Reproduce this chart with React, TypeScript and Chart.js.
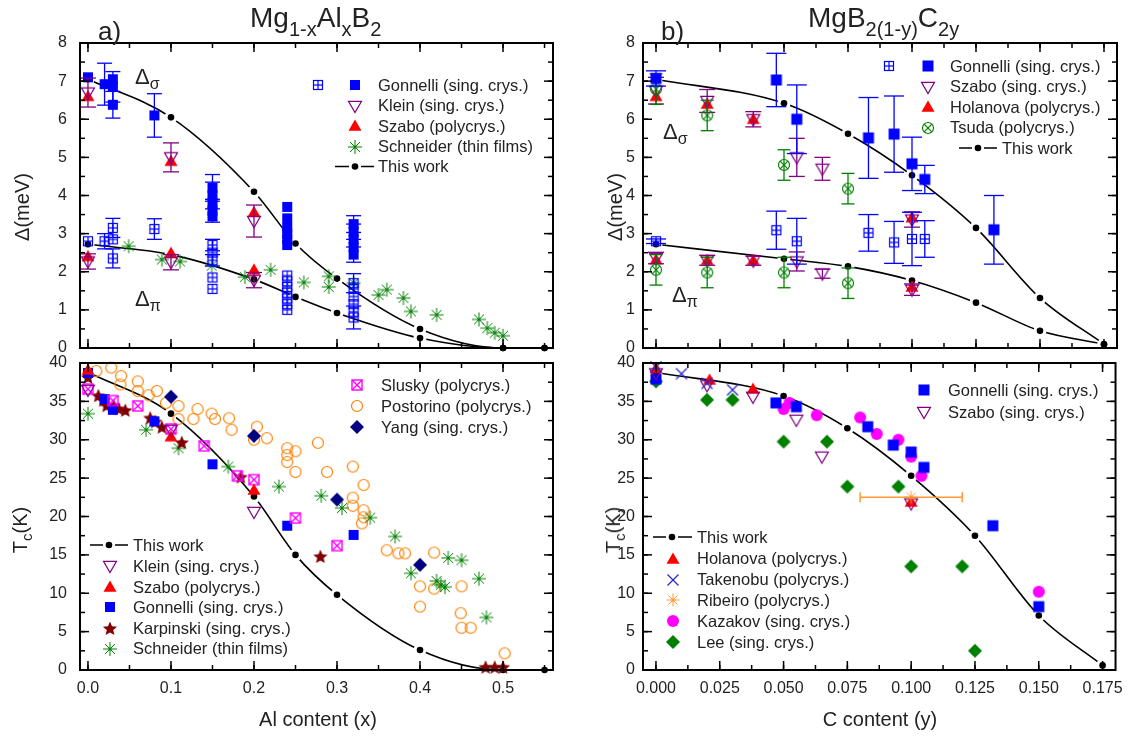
import React, { useEffect, useRef } from "react";
import { Chart, registerables } from "chart.js";

Chart.register(...registerables);

const FONT = "'Liberation Sans', Arial, Helvetica, sans-serif";
const TEXT = "#222222";

const C_BLUE = "#0000ff";
const C_PURPLE = "#800080";
const C_RED = "#ff0000";
const C_GREEN = "#008000";
const C_MAGENTA = "#ff00ff";
const C_ORANGE = "#ff8000";
const C_NAVY = "#000080";
const C_MAROON = "#800000";
const C_TAKENOBU = "#2a2ac8";
const C_RIBEIRO = "#ff9933";

// ================= DATA: panel a) Mg1-xAlxB2 =================
const aThisWorkX = [0, 0.1, 0.2, 0.25, 0.3, 0.4, 0.5, 0.55];
const aThisWorkSigma = [7.05, 6.05, 4.1, 2.74, 1.82, 0.5, 0, 0];
const aThisWorkPi = [2.72, 2.45, 1.8, 1.34, 0.92, 0.26, 0, 0];
const aThisWorkTc = [38.8, 33.4, 22.6, 15.0, 9.8, 2.6, 0, 0];

const aGonSigmaX = [0, 0.02, 0.03, 0.03, 0.03, 0.08, 0.15, 0.15, 0.15, 0.15, 0.15, 0.24, 0.24, 0.24, 0.24, 0.24, 0.24, 0.32, 0.32, 0.32, 0.32, 0.32];
const aGonSigma = [7.1, 6.92, 7.05, 6.85, 6.38, 6.1, 4.2, 4.0, 3.8, 3.6, 3.45, 3.7, 3.4, 3.15, 3.0, 2.85, 2.7, 3.25, 3.05, 2.85, 2.65, 2.45];
const aGonSigmaErr = [0, 0.55, 0, 0.4, 0.35, 0.57, 0.35, 0.35, 0, 0.3, 0, 0, 0, 0, 0, 0, 0, 0.22, 0.2, 0, 0, 0.2];

const aGonPiX = [0, 0.02, 0.03, 0.03, 0.03, 0.08, 0.15, 0.15, 0.15, 0.15, 0.15, 0.24, 0.24, 0.24, 0.24, 0.24, 0.24, 0.24, 0.32, 0.32, 0.32, 0.32, 0.32, 0.32];
const aGonPi = [2.8, 2.8, 3.15, 2.85, 2.35, 3.12, 2.7, 2.5, 2.3, 1.85, 1.55, 1.9, 1.75, 1.6, 1.45, 1.3, 1.15, 1.0, 1.7, 1.55, 1.35, 1.15, 0.95, 0.8];
const aGonPiErr = [0, 0.2, 0.25, 0, 0.25, 0.27, 0.15, 0, 0.15, 0, 0, 0, 0, 0, 0, 0, 0, 0, 0.25, 0, 0, 0, 0, 0.3];

const aKleinX = [0, 0.1, 0.2];
const aKleinSigma = [6.7, 5.0, 3.33];
const aKleinSigmaErr = [0.38, 0.38, 0.42];
const aKleinPi = [2.27, 2.25, 1.78];
const aKleinPiErr = [0.2, 0.2, 0.2];

const aSzaboX = [0, 0.1, 0.2];
const aSzaboSigma = [6.6, 4.9, 3.56];
const aSzaboPi = [2.4, 2.49, 2.05];

const aSchneiderGapX = [0.049, 0.089, 0.111, 0.149, 0.189, 0.22, 0.26, 0.29, 0.29, 0.32, 0.35, 0.36, 0.38, 0.389, 0.42, 0.471, 0.481, 0.49, 0.5];
const aSchneiderGap = [2.67, 2.32, 2.27, 2.16, 1.86, 2.05, 1.72, 1.88, 1.6, 1.7, 1.39, 1.53, 1.31, 0.96, 0.87, 0.75, 0.52, 0.4, 0.32];

const aSluskyX = [0, 0.03, 0.06, 0.1, 0.14, 0.18, 0.2, 0.25, 0.3];
const aSluskyTc = [36.6, 35.1, 34.4, 31.4, 29.2, 25.3, 24.8, 19.8, 16.2];

const aPostorinoX = [0.01, 0.028, 0.04, 0.039, 0.06, 0.06, 0.073, 0.083, 0.094, 0.109, 0.109, 0.127, 0.132, 0.149, 0.153, 0.17, 0.173, 0.2035, 0.2, 0.2155, 0.24, 0.24, 0.24, 0.25, 0.25, 0.277, 0.288, 0.319, 0.332, 0.319, 0.319, 0.332, 0.332, 0.33, 0.36, 0.374, 0.382, 0.417, 0.4, 0.417, 0.45, 0.4, 0.449, 0.45, 0.461, 0.502];
const aPostorinoTc = [38.96, 39.4, 38.3, 37.2, 37.6, 36.35, 35.8, 36.35, 34.8, 34.4, 32.7, 32.7, 34.0, 33.4, 32.7, 32.8, 31.3, 31.7, 30.0, 30.2, 28.9, 28.0, 27.1, 28.5, 25.8, 29.6, 25.8, 26.5, 24.1, 22.45, 21.4, 20.8, 19.9, 19.1, 15.6, 15.2, 15.2, 15.3, 10.9, 10.6, 10.9, 8.25, 7.4, 5.5, 5.5, 2.17];

const aYangX = [0.1, 0.2, 0.3, 0.4];
const aYangTc = [35.6, 30.5, 22.2, 13.7];

const aGonTcX = [0, 0.02, 0.03, 0.08, 0.15, 0.24, 0.32];
const aGonTc = [38.7, 35.3, 33.9, 32.4, 26.8, 18.8, 17.6];

const aKleinTc = [36.5, 31.3, 20.6];
const aSzaboTc = [39.1, 30.4, 23.45];

const aKarpinskiX = [0, 0.0125, 0.0185, 0.0225, 0.031, 0.037, 0.045, 0.075, 0.081, 0.089, 0.113, 0.184, 0.28, 0.479, 0.49, 0.5];
const aKarpinskiTc = [38.2, 35.8, 35.2, 34.5, 34.5, 34.1, 33.9, 32.9, 32.4, 31.7, 29.7, 25.2, 14.85, 0.43, 0.43, 0.43];

const aSchneiderTcX = [0, 0.07, 0.109, 0.169, 0.23, 0.281, 0.306, 0.34, 0.37, 0.389, 0.42, 0.425, 0.43, 0.434, 0.45, 0.471, 0.48];
const aSchneiderTc = [33.4, 31.3, 28.9, 26.5, 23.9, 22.7, 21.1, 19.85, 17.4, 12.6, 11.6, 11.1, 10.8, 14.6, 14.3, 11.9, 6.85];

// ================= DATA: panel b) MgB2(1-y)C2y =================
const bThisWorkX = [0, 0.05, 0.075, 0.1, 0.125, 0.15, 0.175];
const bThisWorkSigma = [7.05, 6.42, 5.62, 4.53, 3.15, 1.31, 0.1];
const bThisWorkPi = [2.72, 2.34, 2.14, 1.77, 1.19, 0.45, 0.1];
const bThisWorkTc = [38.8, 35.7, 31.5, 25.3, 17.5, 7.1, 0.6];

const bGonSigmaX = [0, 0.047, 0.055, 0.083, 0.093, 0.1, 0.105, 0.132];
const bGonSigma = [7.07, 7.03, 6.0, 5.51, 5.61, 4.83, 4.42, 3.1];
const bGonSigmaErr = [0.2, 0.7, 0.9, 1.06, 1.0, 0.7, 0.37, 0.9];
const bGonPiX = [0, 0.047, 0.055, 0.083, 0.093, 0.1, 0.105];
const bGonPi = [2.8, 3.09, 2.8, 3.02, 2.77, 2.86, 2.86];
const bGonPiErr = [0.06, 0.5, 0.6, 0.48, 0.55, 0.7, 0.48];

const bSzaboX = [0, 0.02, 0.038, 0.055, 0.065, 0.1];
const bSzaboSigma = [6.75, 6.48, 6.0, 5.0, 4.7, 3.37];
const bSzaboSigmaErr = [0.35, 0.3, 0.2, 0.5, 0.3, 0.2];
const bSzaboPi = [2.36, 2.3, 2.29, 2.27, 1.95, 1.53];
const bSzaboPiErr = [0.15, 0.13, 0.12, 0.25, 0.12, 0.15];

const bHolanovaX = [0, 0.02, 0.038, 0.1];
const bHolanovaSigma = [6.6, 6.4, 6.0, 3.42];
const bHolanovaPi = [2.32, 2.3, 2.3, 1.6];

const bTsudaX = [0, 0.02, 0.05, 0.075];
const bTsudaSigma = [6.79, 6.1, 4.8, 4.18];
const bTsudaPi = [2.05, 1.98, 1.98, 1.7];
const bTsudaErr = [0.4, 0.4, 0.4, 0.4];

const bHolanovaTcX = [0, 0.021, 0.038, 0.1];
const bHolanovaTc = [39.3, 37.8, 36.6, 21.9];
const bTakenobuX = [0, 0.01, 0.02, 0.03];
const bTakenobuTc = [39.5, 38.6, 37.35, 36.5];
const bRibeiroX = [0.1];
const bRibeiroTc = [22.5];
const bRibeiroXErr = [0.02];
const bKazakovX = [0.05, 0.0523, 0.063, 0.08, 0.0865, 0.095, 0.1, 0.104, 0.15];
const bKazakovTc = [34.0, 34.8, 33.2, 32.9, 30.75, 30.0, 27.8, 25.3, 10.2];
const bGonTcX = [0, 0.047, 0.055, 0.083, 0.093, 0.1, 0.105, 0.132, 0.15];
const bGonTc = [37.9, 34.8, 34.3, 31.7, 29.3, 28.4, 26.4, 18.8, 8.25];
const bSzaboTcX = [0, 0.02, 0.038, 0.055, 0.065, 0.1];
const bSzaboTc = [38.65, 37.1, 35.6, 32.6, 27.8, 21.7];
const bLeeX = [0, 0.02, 0.03, 0.05, 0.067, 0.075, 0.095, 0.1, 0.12, 0.125];
const bLeeTc = [37.6, 35.2, 35.2, 29.75, 29.75, 23.9, 23.9, 13.5, 13.5, 2.5];

// ================= MARKERS =================
type Kind = "sqFill" | "sqPlus" | "sqX" | "triDown" | "triUp" | "asterisk" | "circleOpen" | "circleFill" | "circleX" | "diamond" | "star5" | "cross";

function drawMarker(kind: Kind, color: string, size: number): HTMLCanvasElement {
  const S = 30;
  const c = document.createElement("canvas");
  c.width = S;
  c.height = S;
  const g = c.getContext("2d")!;
  const m = S / 2;
  const h = size / 2;
  g.strokeStyle = color;
  g.fillStyle = color;
  g.lineWidth = 1.2;
  const seg = (x1: number, y1: number, x2: number, y2: number) => {
    g.beginPath();
    g.moveTo(x1, y1);
    g.lineTo(x2, y2);
    g.stroke();
  };
  switch (kind) {
    case "sqFill":
      g.fillRect(m - h, m - h, size, size);
      break;
    case "sqPlus":
      g.strokeRect(m - h, m - h, size, size);
      seg(m, m - h, m, m + h);
      seg(m - h, m, m + h, m);
      break;
    case "sqX":
      g.lineWidth = 1.4;
      g.strokeRect(m - h, m - h, size, size);
      seg(m - h, m - h, m + h, m + h);
      seg(m - h, m + h, m + h, m - h);
      break;
    case "triDown":
      g.beginPath();
      g.moveTo(m - h, m - h * 0.72);
      g.lineTo(m + h, m - h * 0.72);
      g.lineTo(m, m + h);
      g.closePath();
      g.stroke();
      break;
    case "triUp":
      g.beginPath();
      g.moveTo(m - h, m + h * 0.72);
      g.lineTo(m + h, m + h * 0.72);
      g.lineTo(m, m - h);
      g.closePath();
      g.fill();
      break;
    case "asterisk":
      g.lineWidth = 1;
      for (let k = 0; k < 4; k++) {
        const a = (k * Math.PI) / 4;
        seg(m - h * Math.cos(a), m - h * Math.sin(a), m + h * Math.cos(a), m + h * Math.sin(a));
      }
      g.beginPath();
      g.arc(m, m, 1.5, 0, Math.PI * 2);
      g.fill();
      break;
    case "circleOpen":
      g.beginPath();
      g.arc(m, m, h, 0, Math.PI * 2);
      g.stroke();
      break;
    case "circleFill":
      g.beginPath();
      g.arc(m, m, h, 0, Math.PI * 2);
      g.fill();
      break;
    case "circleX": {
      g.beginPath();
      g.arc(m, m, h, 0, Math.PI * 2);
      g.stroke();
      const d = h * 0.7;
      seg(m - d, m - d, m + d, m + d);
      seg(m - d, m + d, m + d, m - d);
      break;
    }
    case "diamond":
      g.beginPath();
      g.moveTo(m, m - h);
      g.lineTo(m + h, m);
      g.lineTo(m, m + h);
      g.lineTo(m - h, m);
      g.closePath();
      g.fill();
      break;
    case "star5":
      g.beginPath();
      for (let k = 0; k < 10; k++) {
        const r = k % 2 === 0 ? h : h * 0.45;
        const a = -Math.PI / 2 + (k * Math.PI) / 5;
        const px = m + r * Math.cos(a);
        const py = m + 1 + r * Math.sin(a);
        if (k === 0) g.moveTo(px, py);
        else g.lineTo(px, py);
      }
      g.closePath();
      g.fill();
      break;
    case "cross":
      seg(m - h, m - h, m + h, m + h);
      seg(m - h, m + h, m + h, m - h);
      break;
  }
  return c;
}

const MARKER_DEFS: Record<string, [Kind, string, number]> = {
  gonSq: ["sqFill", C_BLUE, 10],
  gonSqB: ["sqFill", C_BLUE, 11],
  gonPlus: ["sqPlus", C_BLUE, 9],
  purpleTri: ["triDown", C_PURPLE, 13],
  redTri: ["triUp", C_RED, 13],
  greenAst: ["asterisk", C_GREEN, 14],
  magSqX: ["sqX", C_MAGENTA, 10],
  orangeCirc: ["circleOpen", C_ORANGE, 11],
  navyDiamond: ["diamond", C_NAVY, 14],
  maroonStar: ["star5", C_MAROON, 15],
  greenCircX: ["circleX", C_GREEN, 11],
  blueCross: ["cross", C_TAKENOBU, 11],
  orangeAst: ["asterisk", C_RIBEIRO, 13],
  magCirc: ["circleFill", C_MAGENTA, 12],
  greenDiamond: ["diamond", C_GREEN, 14],
};
const markerCache: Record<string, HTMLCanvasElement> = {};
function mk(key: string): HTMLCanvasElement {
  if (!markerCache[key]) {
    const [k, c, s] = MARKER_DEFS[key];
    markerCache[key] = drawMarker(k, c, s);
  }
  return markerCache[key];
}

// ================= DATASET HELPERS =================
const pts = (xs: number[], ys: number[]) => xs.map((x, i) => ({ x, y: ys[i] }));

function series(label: string, xs: number[], ys: number[], markerKey: string, extra: any = {}) {
  return {
    label,
    data: pts(xs, ys),
    pointStyle: mk(markerKey),
    pointRadius: 6,
    pointHoverRadius: 6,
    showLine: false,
    clip: false,
    ...extra,
  };
}

function thisWork(xs: number[], ys: number[]) {
  return [
    {
      label: "This work",
      data: pts(xs, ys),
      showLine: true,
      borderColor: "#000",
      borderWidth: 1.6,
      cubicInterpolationMode: "monotone",
      pointStyle: "circle",
      pointRadius: 6.5,
      pointHoverRadius: 6.5,
      pointBackgroundColor: "#fff",
      pointBorderColor: "#fff",
      pointBorderWidth: 0,
      clip: false,
      order: 100,
    },
    {
      label: "This work (points)",
      data: pts(xs, ys),
      showLine: false,
      pointStyle: "circle",
      pointRadius: 3.3,
      pointHoverRadius: 3.3,
      pointBackgroundColor: "#000",
      pointBorderColor: "#000",
      pointBorderWidth: 0,
      clip: false,
      order: 99,
    },
  ];
}

// ================= PLUGINS =================
const errorBarPlugin = {
  id: "errorBars",
  beforeDatasetDraw(chart: any, args: any) {
    const ds: any = chart.data.datasets[args.index];
    if (!ds.errY && !ds.errX) return;
    const ctx = chart.ctx;
    const xs = chart.scales.x;
    const ys = chart.scales.y;
    ctx.save();
    ctx.strokeStyle = ds.errColor || "#000";
    ctx.lineWidth = ds.errWidth || 1.3;
    const cap = ds.errCap || 8;
    const line = (x1: number, y1: number, x2: number, y2: number) => {
      ctx.beginPath();
      ctx.moveTo(x1, y1);
      ctx.lineTo(x2, y2);
      ctx.stroke();
    };
    ds.data.forEach((p: any, i: number) => {
      const px = xs.getPixelForValue(p.x);
      const py = ys.getPixelForValue(p.y);
      const ey = ds.errY ? ds.errY[i] : 0;
      if (ey) {
        const y1 = ys.getPixelForValue(p.y + ey);
        const y2 = ys.getPixelForValue(p.y - ey);
        line(px, y1, px, y2);
        line(px - cap, y1, px + cap, y1);
        line(px - cap, y2, px + cap, y2);
      }
      const ex = ds.errX ? ds.errX[i] : 0;
      if (ex) {
        const x1 = xs.getPixelForValue(p.x - ex);
        const x2 = xs.getPixelForValue(p.x + ex);
        line(x1, py, x2, py);
        line(x1, py - 5, x1, py + 5);
        line(x2, py - 5, x2, py + 5);
      }
    });
    ctx.restore();
  },
};

type TickSpec = { xMajor: number; xMinor: number; yMajor: number; yMinor: number };
function framePlugin(spec: TickSpec) {
  return {
    id: "frameTicks",
    afterDraw(chart: any) {
      const { ctx, chartArea: a } = chart;
      const xs = chart.scales.x;
      const ys = chart.scales.y;
      ctx.save();
      ctx.strokeStyle = "#000";
      ctx.lineWidth = 1.5;
      const line = (x1: number, y1: number, x2: number, y2: number) => {
        ctx.beginPath();
        ctx.moveTo(x1, y1);
        ctx.lineTo(x2, y2);
        ctx.stroke();
      };
      const doX = (step: number, len: number) => {
        const k0 = Math.ceil(xs.min / step - 1e-6);
        const k1 = Math.floor(xs.max / step + 1e-6);
        for (let k = k0; k <= k1; k++) {
          const p = xs.getPixelForValue(k * step);
          line(p, a.bottom, p, a.bottom - len);
          line(p, a.top, p, a.top + len);
        }
      };
      const doY = (step: number, len: number) => {
        const k0 = Math.ceil(ys.min / step - 1e-6);
        const k1 = Math.floor(ys.max / step + 1e-6);
        for (let k = k0; k <= k1; k++) {
          const p = ys.getPixelForValue(k * step);
          line(a.left, p, a.left + len, p);
          line(a.right, p, a.right - len, p);
        }
      };
      doX(spec.xMinor, 5);
      doX(spec.xMajor, 9);
      doY(spec.yMinor, 5);
      doY(spec.yMajor, 9);
      ctx.lineWidth = 2;
      ctx.strokeRect(a.left, a.top, a.right - a.left, a.bottom - a.top);
      ctx.restore();
    },
  };
}

type LegendItem = {
  y: number;
  tx: number;
  label: string;
  marks?: { x: number; key: string }[];
  line?: { x1: number; x2: number; dot: number };
};
function legendPlugin(items: LegendItem[]) {
  return {
    id: "legendBox",
    afterDraw(chart: any) {
      const ctx = chart.ctx;
      ctx.save();
      ctx.font = `16.5px ${FONT}`;
      ctx.fillStyle = TEXT;
      ctx.textBaseline = "middle";
      ctx.textAlign = "left";
      items.forEach((it) => {
        if (it.marks) {
          it.marks.forEach((m) => {
            const img = mk(m.key);
            ctx.drawImage(img, Math.round(m.x - img.width / 2), Math.round(it.y - img.height / 2));
          });
        }
        if (it.line) {
          ctx.strokeStyle = "#000";
          ctx.lineWidth = 1.6;
          ctx.beginPath();
          ctx.moveTo(it.line.x1, it.y);
          ctx.lineTo(it.line.dot - 6, it.y);
          ctx.moveTo(it.line.dot + 6, it.y);
          ctx.lineTo(it.line.x2, it.y);
          ctx.stroke();
          ctx.fillStyle = "#000";
          ctx.beginPath();
          ctx.arc(it.line.dot, it.y, 3.3, 0, Math.PI * 2);
          ctx.fill();
          ctx.fillStyle = TEXT;
        }
        ctx.fillText(it.label, it.tx, it.y + 1);
      });
      ctx.restore();
    },
  };
}

// ================= PANELS =================
type PanelDef = {
  area: { l: number; t: number; r: number; b: number };
  x: { min: number; max: number; major: number; minor: number; dec: number; show: boolean };
  y: { min: number; max: number; major: number; minor: number; pad: number };
  datasets: () => any[];
  legend: LegendItem[];
};

const A_X = { min: -0.0096, max: 0.5602, major: 0.1, minor: 0.05, dec: 1 };
const B_X = { min: -0.00508, max: 0.18008, major: 0.025, minor: 0.0125, dec: 3 };
const GAP_Y = { min: 0, max: 8, major: 1, minor: 0.5 };
const TC_Y = { min: 0, max: 40, major: 5, minor: 2.5 };

const PANELS: PanelDef[] = [
  {
    area: { l: 80, t: 43, r: 553, b: 348 },
    x: { ...A_X, show: false },
    y: { ...GAP_Y, pad: 13 },
    datasets: () => [
      series("Klein (sing. crys.) σ", aKleinX, aKleinSigma, "purpleTri", { errY: aKleinSigmaErr, errColor: C_PURPLE, errCap: 8 }),
      series("Klein (sing. crys.) π", aKleinX, aKleinPi, "purpleTri", { errY: aKleinPiErr, errColor: C_PURPLE, errCap: 8 }),
      series("Szabo (polycrys.) σ", aSzaboX, aSzaboSigma, "redTri"),
      series("Szabo (polycrys.) π", aSzaboX, aSzaboPi, "redTri"),
      series("Gonnelli (sing. crys.) σ", aGonSigmaX, aGonSigma, "gonSq", { errY: aGonSigmaErr, errColor: C_BLUE, errCap: 7.5 }),
      series("Gonnelli (sing. crys.) π", aGonPiX, aGonPi, "gonPlus", { errY: aGonPiErr, errColor: C_BLUE, errCap: 7.5 }),
      series("Schneider (thin films)", aSchneiderGapX, aSchneiderGap, "greenAst"),
      ...thisWork(aThisWorkX, aThisWorkSigma),
      ...thisWork(aThisWorkX, aThisWorkPi),
    ],
    legend: [
      { y: 85, tx: 378, label: "Gonnelli (sing. crys.)", marks: [{ x: 318, key: "gonPlus" }, { x: 355, key: "gonSq" }] },
      { y: 105.5, tx: 378, label: "Klein (sing. crys.)", marks: [{ x: 355, key: "purpleTri" }] },
      { y: 126, tx: 378, label: "Szabo (polycrys.)", marks: [{ x: 355, key: "redTri" }] },
      { y: 146.5, tx: 378, label: "Schneider (thin films)", marks: [{ x: 355, key: "greenAst" }] },
      { y: 166.5, tx: 378, label: "This work", line: { x1: 335, x2: 374, dot: 355 } },
    ],
  },
  {
    area: { l: 80, t: 363, r: 553, b: 670 },
    x: { ...A_X, show: true },
    y: { ...TC_Y, pad: 13 },
    datasets: () => [
      series("Yang (sing. crys.)", aYangX, aYangTc, "navyDiamond"),
      series("Klein (sing. crys.)", aKleinX, aKleinTc, "purpleTri"),
      series("Szabo (polycrys.)", aSzaboX, aSzaboTc, "redTri"),
      series("Slusky (polycrys.)", aSluskyX, aSluskyTc, "magSqX"),
      series("Gonnelli (sing. crys.)", aGonTcX, aGonTc, "gonSq"),
      series("Karpinski (sing. crys.)", aKarpinskiX, aKarpinskiTc, "maroonStar"),
      series("Schneider (thin films)", aSchneiderTcX, aSchneiderTc, "greenAst"),
      series("Postorino (polycrys.)", aPostorinoX, aPostorinoTc, "orangeCirc"),
      ...thisWork(aThisWorkX, aThisWorkTc),
    ],
    legend: [
      { y: 385, tx: 381, label: "Slusky (polycrys.)", marks: [{ x: 357, key: "magSqX" }] },
      { y: 406, tx: 381, label: "Postorino (polycrys.)", marks: [{ x: 357, key: "orangeCirc" }] },
      { y: 427, tx: 381, label: "Yang (sing. crys.)", marks: [{ x: 357, key: "navyDiamond" }] },
      { y: 545, tx: 133, label: "This work", line: { x1: 90, x2: 128, dot: 109 } },
      { y: 566, tx: 133, label: "Klein (sing. crys.)", marks: [{ x: 110, key: "purpleTri" }] },
      { y: 587, tx: 133, label: "Szabo (polycrys.)", marks: [{ x: 110, key: "redTri" }] },
      { y: 607, tx: 133, label: "Gonnelli (sing. crys.)", marks: [{ x: 110, key: "gonSq" }] },
      { y: 628, tx: 133, label: "Karpinski (sing. crys.)", marks: [{ x: 110, key: "maroonStar" }] },
      { y: 648.5, tx: 133, label: "Schneider (thin films)", marks: [{ x: 110, key: "greenAst" }] },
    ],
  },
  {
    area: { l: 643, t: 43, r: 1117, b: 348 },
    x: { ...B_X, show: false },
    y: { ...GAP_Y, pad: 8 },
    datasets: () => [
      series("Gonnelli (sing. crys.) σ", bGonSigmaX, bGonSigma, "gonSqB", { errY: bGonSigmaErr, errColor: C_BLUE, errCap: 10 }),
      series("Gonnelli (sing. crys.) π", bGonPiX, bGonPi, "gonPlus", { errY: bGonPiErr, errColor: C_BLUE, errCap: 10 }),
      series("Tsuda (polycrys.) σ", bTsudaX, bTsudaSigma, "greenCircX", { errY: bTsudaErr, errColor: C_GREEN, errCap: 6.5 }),
      series("Tsuda (polycrys.) π", bTsudaX, bTsudaPi, "greenCircX", { errY: bTsudaErr, errColor: C_GREEN, errCap: 6.5 }),
      series("Szabo (sing. crys.) σ", bSzaboX, bSzaboSigma, "purpleTri", { errY: bSzaboSigmaErr, errColor: C_PURPLE, errCap: 8 }),
      series("Szabo (sing. crys.) π", bSzaboX, bSzaboPi, "purpleTri", { errY: bSzaboPiErr, errColor: C_PURPLE, errCap: 8 }),
      series("Holanova (polycrys.) σ", bHolanovaX, bHolanovaSigma, "redTri"),
      series("Holanova (polycrys.) π", bHolanovaX, bHolanovaPi, "redTri"),
      ...thisWork(bThisWorkX, bThisWorkSigma),
      ...thisWork(bThisWorkX, bThisWorkPi),
    ],
    legend: [
      { y: 66, tx: 950, label: "Gonnelli (sing. crys.)", marks: [{ x: 889, key: "gonPlus" }, { x: 928, key: "gonSqB" }] },
      { y: 86.5, tx: 950, label: "Szabo (sing. crys.)", marks: [{ x: 928, key: "purpleTri" }] },
      { y: 107, tx: 950, label: "Holanova (polycrys.)", marks: [{ x: 928, key: "redTri" }] },
      { y: 127.5, tx: 950, label: "Tsuda (polycrys.)", marks: [{ x: 928, key: "greenCircX" }] },
      { y: 148, tx: 1002, label: "This work", line: { x1: 959, x2: 997, dot: 978 } },
    ],
  },
  {
    area: { l: 643, t: 363, r: 1117, b: 670 },
    x: { ...B_X, show: true },
    y: { ...TC_Y, pad: 8 },
    datasets: () => [
      series("Ribeiro (polycrys.)", bRibeiroX, bRibeiroTc, "orangeAst", { errX: bRibeiroXErr, errColor: C_RIBEIRO, errWidth: 1.5 }),
      series("Takenobu (polycrys.)", bTakenobuX, bTakenobuTc, "blueCross"),
      series("Szabo (sing. crys.)", bSzaboTcX, bSzaboTc, "purpleTri"),
      series("Holanova (polycrys.)", bHolanovaTcX, bHolanovaTc, "redTri"),
      series("Gonnelli (sing. crys.)", bGonTcX, bGonTc, "gonSqB"),
      series("Kazakov (sing. crys.)", bKazakovX, bKazakovTc, "magCirc"),
      series("Lee (sing. crys.)", bLeeX, bLeeTc, "greenDiamond"),
      ...thisWork(bThisWorkX, bThisWorkTc),
    ],
    legend: [
      { y: 390, tx: 948, label: "Gonnelli (sing. crys.)", marks: [{ x: 924, key: "gonSqB" }] },
      { y: 412, tx: 948, label: "Szabo (sing. crys.)", marks: [{ x: 924, key: "purpleTri" }] },
      { y: 537, tx: 697, label: "This work", line: { x1: 653, x2: 692, dot: 672 } },
      { y: 558.5, tx: 697, label: "Holanova (polycrys.)", marks: [{ x: 673, key: "redTri" }] },
      { y: 579.5, tx: 697, label: "Takenobu (polycrys.)", marks: [{ x: 673, key: "blueCross" }] },
      { y: 600, tx: 697, label: "Ribeiro (polycrys.)", marks: [{ x: 673, key: "orangeAst" }] },
      { y: 621, tx: 697, label: "Kazakov (sing. crys.)", marks: [{ x: 673, key: "magCirc" }] },
      { y: 642, tx: 697, label: "Lee (sing. crys.)", marks: [{ x: 673, key: "greenDiamond" }] },
    ],
  },
];

const W = 1132;
const H = 736;
const YW = 60;
const XH = 40;

function buildConfig(p: PanelDef): any {
  const xH = p.x.show ? XH : 0;
  return {
    type: "scatter",
    data: { datasets: p.datasets() },
    options: {
      responsive: false,
      animation: false,
      devicePixelRatio: 1,
      events: [],
      layout: {
        autoPadding: false,
        padding: { left: p.area.l - YW, top: p.area.t, right: W - p.area.r, bottom: H - p.area.b - xH },
      },
      plugins: { legend: { display: false }, tooltip: { enabled: false } },
      scales: {
        x: {
          type: "linear",
          min: p.x.min,
          max: p.x.max,
          grid: { display: false, drawTicks: false },
          border: { display: false },
          ticks: {
            display: p.x.show,
            stepSize: p.x.major,
            includeBounds: false,
            autoSkip: false,
            maxRotation: 0,
            padding: 9,
            color: TEXT,
            font: { family: FONT, size: 16 },
            callback: (v: any) => Number(v).toFixed(p.x.dec),
          },
          afterFit: (s: any) => {
            s.height = xH;
          },
        },
        y: {
          type: "linear",
          min: p.y.min,
          max: p.y.max,
          grid: { display: false, drawTicks: false },
          border: { display: false },
          ticks: {
            stepSize: p.y.major,
            includeBounds: false,
            autoSkip: false,
            padding: p.y.pad,
            color: TEXT,
            font: { family: FONT, size: 16 },
            callback: (v: any) => String(Math.round(Number(v))),
          },
          afterFit: (s: any) => {
            s.width = YW;
          },
        },
      },
    },
    plugins: [errorBarPlugin, framePlugin({ xMajor: p.x.major, xMinor: p.x.minor, yMajor: p.y.major, yMinor: p.y.minor }), legendPlugin(p.legend)],
  };
}

function Panel({ def }: { def: PanelDef }) {
  const ref = useRef<HTMLCanvasElement>(null);
  useEffect(() => {
    const chart = new Chart(ref.current as HTMLCanvasElement, buildConfig(def));
    return () => chart.destroy();
  }, [def]);
  return <canvas ref={ref} width={W} height={H} style={{ position: "absolute", left: 0, top: 0, width: W, height: H }} />;
}

const txt = (left: number, top: number, fontSize: number, extra: any = {}): any => ({
  position: "absolute",
  left,
  top,
  fontSize,
  fontFamily: FONT,
  color: TEXT,
  lineHeight: 1,
  whiteSpace: "nowrap",
  ...extra,
});

function Sub({ children, size = 20, drop = 9 }: { children: any; size?: number; drop?: number }) {
  return <span style={{ fontSize: size, verticalAlign: -drop }}>{children}</span>;
}

const CENTER = "translate(-50%, -50%)";
const ROT = "translate(-50%, -50%) rotate(-90deg)";

export default function App() {
  return (
    <div style={{ position: "absolute", left: 0, top: 0, width: W, height: H, background: "#fff", overflow: "hidden" }}>
      {PANELS.map((p, i) => (
        <Panel key={i} def={p} />
      ))}
      <div style={txt(98, 18, 26)}>a)</div>
      <div style={txt(250, 4, 28)}>
        Mg<Sub>1-x</Sub>Al<Sub>x</Sub>B<Sub>2</Sub>
      </div>
      <div style={txt(661, 18, 26)}>b)</div>
      <div style={txt(808, 4, 28)}>
        MgB<Sub>2(1-y)</Sub>C<Sub>2y</Sub>
      </div>

      <div style={txt(135, 66, 22)}>
        Δ<Sub size={16} drop={5}>σ</Sub>
      </div>
      <div style={txt(135, 288, 22)}>
        Δ<Sub size={16} drop={5}>π</Sub>
      </div>
      <div style={txt(663, 121, 22)}>
        Δ<Sub size={16} drop={5}>σ</Sub>
      </div>
      <div style={txt(672, 284, 22)}>
        Δ<Sub size={16} drop={5}>π</Sub>
      </div>

      <div style={txt(22, 207, 20, { transform: ROT })}>Δ(meV)</div>
      <div style={txt(22, 530, 20, { transform: ROT })}>
        T<Sub size={15} drop={5}>c</Sub>(K)
      </div>
      <div style={txt(615, 207, 20, { transform: ROT })}>Δ(meV)</div>
      <div style={txt(615, 530, 20, { transform: ROT })}>
        T<Sub size={15} drop={5}>c</Sub>(K)
      </div>

      <div style={txt(318, 719, 20, { transform: CENTER })}>Al content (x)</div>
      <div style={txt(880, 719, 20, { transform: CENTER })}>C content (y)</div>
    </div>
  );
}
